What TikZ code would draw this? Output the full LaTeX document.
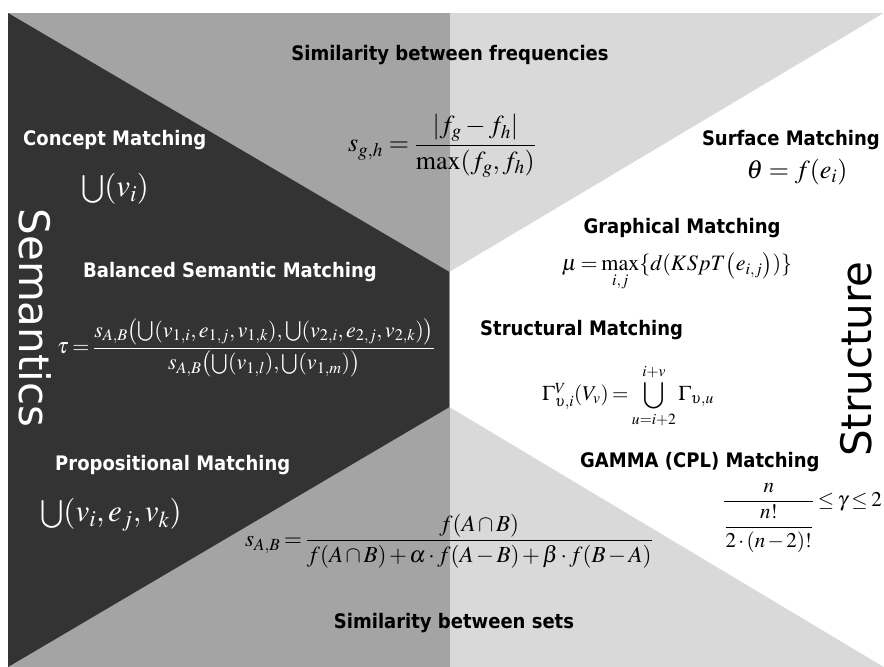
\documentclass[tikz,border=0pt]{standalone}
\usepackage{amsmath}
\usepackage{mathptmx}
\usepackage[no-math]{fontspec}
\newfontfamily\labfont{DejaVu Sans}[FakeStretch=0.9]
\newfontfamily\bigfont{DejaVu Sans}
\definecolor{darkbg}{HTML}{333333}
\definecolor{midbg}{HTML}{A4A4A4}
\definecolor{lightbg}{HTML}{D9D9D9}
\newcommand{\tightmath}{\thickmuskip=3mu plus 2mu\medmuskip=2mu plus 1mu}
\tikzset{
  lab/.style={font=\labfont\bfseries\fontsize{20}{24}\selectfont, inner sep=0pt, text=black},
  wlab/.style={lab, text=white},
  fml/.style={inner sep=0pt, text=black},
  wfml/.style={fml, text=white},
  bigword/.style={font=\bigfont\fontsize{42}{48}\selectfont, inner sep=0pt}
}
\begin{document}
\begin{tikzpicture}[x=1pt,y=-1pt]
\useasboundingbox (0,0) rectangle (884,667);
% background regions
\fill[white] (0,0) rectangle (884,667);
\fill[midbg] (8,13) rectangle (449.5,667);
\fill[lightbg] (449.5,13) rectangle (884,667);
\fill[darkbg] (8,13) -- (449.5,272) -- (449.5,407) -- (8,667) -- cycle;
\fill[white] (884,13) -- (449.5,272) -- (449.5,407) -- (884,667) -- cycle;

% vertical words
\node[bigword, text=white, rotate=-90] (sem) at (35,318) {Semantics};
\node[bigword, text=black, rotate=90] (str) at (856,359) {Structure};

% top / bottom titles
\node[lab] (freq) at (450,55) {Similarity between frequencies};
\node[lab] (sets) at (454,623) {Similarity between sets};

% semantics side
\node[wlab, anchor=west] (concept) at (23,140) {Concept Matching};
\node[wfml, font=\fontsize{31}{36}\selectfont] (cf) at (115,189) {$\textstyle\bigcup(v_i)$};
\node[wlab, anchor=west] (bal) at (83,272) {Balanced Semantic Matching};
\node[wfml, font=\fontsize{22}{26}\selectfont, anchor=west] (tf) at (57,348)
  {$\tightmath\tau=\dfrac{s_{A,B}\bigl(\bigcup(v_{1,i},e_{1,j},v_{1,k}),\bigcup(v_{2,i},e_{2,j},v_{2,k})\bigr)}{s_{A,B}\bigl(\bigcup(v_{1,l}),\bigcup(v_{1,m})\bigr)}$};
\node[wlab, anchor=west] (prop) at (55,465) {Propositional Matching};
\node[wfml, font=\fontsize{31}{36}\selectfont] (pf) at (111,515) {$\textstyle\bigcup(v_i,e_j,v_k)$};

% middle formulas
\node[fml, font=\fontsize{26}{30}\selectfont] (sgh) at (442,146)
  {$s_{g,h}=\dfrac{\lvert f_g-f_h\rvert}{\max(f_g,f_h)}$};
\node[fml, font=\fontsize{23}{27}\selectfont] (sab) at (449,541)
  {$\tightmath s_{A,B}=\dfrac{f(A\cap B)}{f(A\cap B)+\alpha\cdot f(A-B)+\beta\cdot f(B-A)}$};

% structure side
\node[lab, anchor=east] (surf) at (880,140) {Surface Matching};
\node[fml, font=\fontsize{26}{30}\selectfont] (thf) at (797,172) {$\theta=f(e_i)$};
\node[lab] (graph) at (682,228) {Graphical Matching};
\node[fml, font=\fontsize{22}{26}\selectfont, anchor=north] (muf) at (677,252)
  {$\tightmath\mu=\max\limits_{i,j}\{d(KSpT\bigl(e_{i,j}\bigr))\}$};
\node[lab, anchor=west] (struc) at (480,330) {Structural Matching};
\node[fml, font=\fontsize{21}{25}\selectfont] (gf) at (628,396)
  {$\tightmath\Gamma^{V}_{\upsilon,i}(V_v)=\displaystyle\bigcup_{u=i+2}^{i+v}\Gamma_{\upsilon,u}$};
\node[lab, anchor=west] (gamma) at (580,462) {GAMMA (CPL) Matching};
\node[fml, font=\fontsize{21}{25}\selectfont, anchor=east] (gmf) at (882,518)
  {$\tightmath\dfrac{n}{\dfrac{n!}{2\cdot(n-2)!}}\le\gamma\le2$};
\end{tikzpicture}
\end{document}
